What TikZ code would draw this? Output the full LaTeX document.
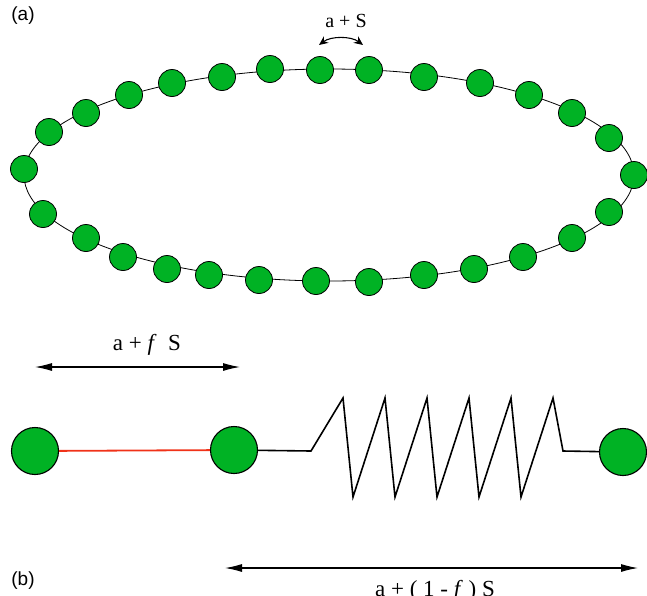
\documentclass[tikz,border=0pt]{standalone}
\usepackage{fontspec}
\setmainfont{Liberation Serif}
\newfontfamily\panelfont{Liberation Sans}
\usetikzlibrary{arrows.meta}
\definecolor{beadgreen}{RGB}{0,178,36}
\definecolor{bondred}{RGB}{240,50,25}

\begin{document}
\begin{tikzpicture}[x=1pt,y=-1pt,
      bead/.style={circle,draw,fill=beadgreen,inner sep=0pt,minimum size=27pt,line width=0.8pt},
      bigbead/.style={bead,minimum size=47pt,line width=1.1pt},
      span/.style={{Latex[length=17pt,width=8pt]}-{Latex[length=17pt,width=8pt]},line width=1.1pt},
      panel/.style={font=\panelfont\fontsize{19}{19}\selectfont},
      lbl/.style={font=\fontsize{23}{23}\selectfont,inner sep=0pt}]
    \useasboundingbox (0,0) rectangle (647,595);
    % (a) ring of beads
    \node[panel] (pa) at (23,16) {(a)};
    \draw[line width=0.8pt] (329,175) ellipse [x radius=305,y radius=106];
    \foreach \x/\y [count=\i] in {24/169,49/132,86/113,129/95,172/83,222/77,270/69,320/70,
        369/70,424/77,480/83,529/95,572/113,609/138,634/175,609/212,572/238,523/257,
        474/269,424/275,369/282,316/281,259/280,209/275,167/269,123/257,86/238,43/214}
      \node[bead] (r\i) at (\x,\y) {};
    \coordinate (swapl) at (319,45);
    \coordinate (swapr) at (363,45);
    \draw[{Stealth[length=9pt,width=8pt]}-{Stealth[length=9pt,width=8pt]},line width=1.1pt]
      (swapl) .. controls (331,36) and (351,36) .. (swapr);
    \node[lbl,font=\fontsize{20}{20}\selectfont] (swaplbl) at (346,21) {a + S};
    % (b) bond and spring
    \node[bigbead] (left) at (35,451) {};
    \node[bigbead] (mid) at (234,450) {};
    \node[bigbead] (right) at (623,452) {};
    \draw[bondred,line width=1.8pt] (left) -- (mid);
    \draw[line width=1.6pt] (mid) -- (311,451) -- (343,398)
      \foreach \k in {0,...,4} {-- (353+42*\k,497) -- (385+42*\k,398)}
      -- (563,451) -- (right);
    \coordinate (fl) at (35,367);
    \coordinate (fr) at (240,367);
    \draw[span] (fl) -- (fr);
    \node[lbl] (flbl) at (147,345) {a + \textit{f}\ \ S};
    \coordinate (gl) at (225,568);
    \coordinate (gr) at (638,568);
    \draw[span] (gl) -- (gr);
    \node[lbl,anchor=north] (glbl) at (435,580) {a + ( 1 - \textit{f} ) S};
    \node[panel] (pb) at (23,581) {(b)};
  \end{tikzpicture}
\end{document}
